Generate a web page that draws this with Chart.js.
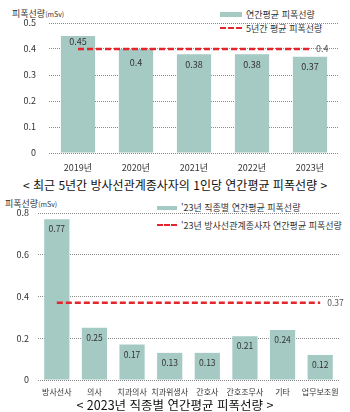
<!DOCTYPE html>
<html lang="ko">
<head>
<meta charset="utf-8">
<script src="https://cdn.jsdelivr.net/npm/chart.js@4"></script>
<style>
  body { margin: 0; background: #fff; font-family: 'Noto Sans CJK KR', sans-serif; color: #333; }
  #wrap { position: relative; width: 350px; height: 412px; overflow: hidden; }
  .box { position: absolute; left: 0; width: 350px; }
  .unit { position: absolute; font-size: 9px; color: #333; white-space: nowrap; }
  .unit small { font-size: 7px; }
  .legend { position: absolute; font-size: 9px; color: #333; white-space: nowrap; }
  .legend div { display: flex; align-items: center; height: 14px; }
  .sw { display: inline-block; margin-right: 4px; }
  .sw.bar { background: #a5c9c3; }
  .sw.dash { border-top: 2px dashed #e3262c; height: 0; }
  .title { position: absolute; left: 0; width: 350px; text-align: center; color: #111; white-space: nowrap; }
</style>
</head>
<body>
<div id="wrap">
  <div class="unit" style="left:12px;top:7px">피폭선량<small>(mSv)</small></div>
  <div class="legend" style="left:220px;top:7px">
    <div><span class="sw bar" style="width:22px;height:5px"></span>연간평균 피폭선량</div>
    <div><span class="sw dash" style="width:22px"></span>5년간 평균 피폭선량</div>
  </div>
  <div class="box" style="top:0;height:176px"><canvas id="c1"></canvas></div>
  <div class="title" style="top:176px;font-size:12px">&lt; 최근 5년간 방사선관계종사자의 1인당 연간평균 피폭선량 &gt;</div>

  <div class="unit" style="left:5px;top:197px">피폭선량<small>(mSv)</small></div>
  <div class="legend" style="left:157px;top:197px">
    <div style="height:21px"><span class="sw bar" style="width:20px;height:4px"></span>'23년 직종별 연간평균 피폭선량</div>
    <div><span class="sw dash" style="width:20px"></span>'23년 방사선관계종사자 연간평균 피폭선량</div>
  </div>
  <div class="box" style="top:195px;height:203px"><canvas id="c2"></canvas></div>
  <div class="title" style="top:395px;font-size:12.5px">&lt; 2023년 직종별 연간평균 피폭선량 &gt;</div>
</div>
<script>
const years = ['2019년', '2020년', '2021년', '2022년', '2023년'];
const yearDose = [0.45, 0.4, 0.38, 0.38, 0.37];
const fiveYearAvg = 0.4;
const yearTicks = [0, 0.1, 0.2, 0.3, 0.4, 0.5];

const jobs = ['방사선사', '의사', '치과의사', '치과위생사', '간호사', '간호조무사', '기타', '업무보조원'];
const jobDose = [0.77, 0.25, 0.17, 0.13, 0.13, 0.21, 0.24, 0.12];
const allAvg = 0.37;
const jobTicks = [0, 0.2, 0.4, 0.6, 0.8];

const FONT = "'Noto Sans CJK KR', sans-serif";
const BAR = '#a5c9c3';
const RED = '#e3262c';

// value labels inside bars + avg value at the right end of the dashed line
const valueLabels = {
  id: 'valueLabels',
  afterDatasetsDraw(chart, args, opts) {
    const { ctx } = chart;
    const bars = chart.getDatasetMeta(0).data;
    const line = chart.getDatasetMeta(1).data;
    const lineY = line[0].y;
    ctx.save();
    ctx.font = `${opts.size}px ${FONT}`;
    ctx.fillStyle = '#333';
    ctx.textAlign = 'center';
    ctx.textBaseline = 'middle';
    bars.forEach((b, i) => {
      let y = b.y + 10;
      // keep clear of the dashed line
      if (Math.abs(y - lineY) < 11) y = y < lineY ? lineY - 7 : lineY + 14;
      ctx.fillText(String(chart.data.datasets[0].data[i]), b.x, y);
    });
    const last = line[line.length - 1];
    ctx.fillStyle = '#555';
    ctx.textAlign = 'left';
    ctx.fillText(String(chart.data.datasets[1].data[0]), last.x + opts.gap, lineY);
    ctx.restore();
  }
};

function makeChart(id, labels, values, avg, ticks, o) {
  return new Chart(document.getElementById(id), {
    data: {
      labels,
      datasets: [
        { type: 'bar', data: values, backgroundColor: BAR, categoryPercentage: 1, barPercentage: o.barPct, order: 2 },
        { type: 'line', data: labels.map(() => avg), borderColor: RED, borderWidth: 2.5,
          borderDash: [6, 3], pointRadius: 0, fill: false, order: 1 }
      ]
    },
    options: {
      responsive: true, maintainAspectRatio: false, animation: false,
      layout: { padding: { top: o.top, right: 11, left: 0, bottom: 0 } },
      plugins: { legend: { display: false }, tooltip: { enabled: false },
        valueLabels: { size: o.valSize, gap: o.gap } },
      scales: {
        x: {
          grid: { display: false, drawTicks: false }, border: { display: false },
          ticks: { color: '#333', font: { family: FONT, size: o.xSize }, padding: o.xPad, maxRotation: 0, autoSkip: false },
          afterFit: s => { s.height = o.xH; }
        },
        y: {
          min: 0, max: ticks[ticks.length - 1],
          afterBuildTicks: s => { s.ticks = ticks.map(v => ({ value: v })); },
          grid: { color: '#8a8a8a', lineWidth: 1, drawTicks: false },
          border: { display: false, dash: [1, 1] },
          ticks: { color: '#333', font: { family: FONT, size: 9 }, padding: o.yPad, callback: v => String(+v.toFixed(1)) },
          afterFit: s => { s.width = o.yW; }
        }
      }
    },
    plugins: [valueLabels]
  });
}

makeChart('c1', years, yearDose, fiveYearAvg, yearTicks,
  { barPct: 0.59, top: 23, xH: 23, xSize: 9, xPad: 9, yW: 49, yPad: 13, valSize: 9, gap: 6 });
makeChart('c2', jobs, jobDose, allAvg, jobTicks,
  { barPct: 0.67, top: 18, xH: 18, xSize: 8, xPad: 7, yW: 38, yPad: 9, valSize: 8.5, gap: 7 });
</script>
</body>
</html>
